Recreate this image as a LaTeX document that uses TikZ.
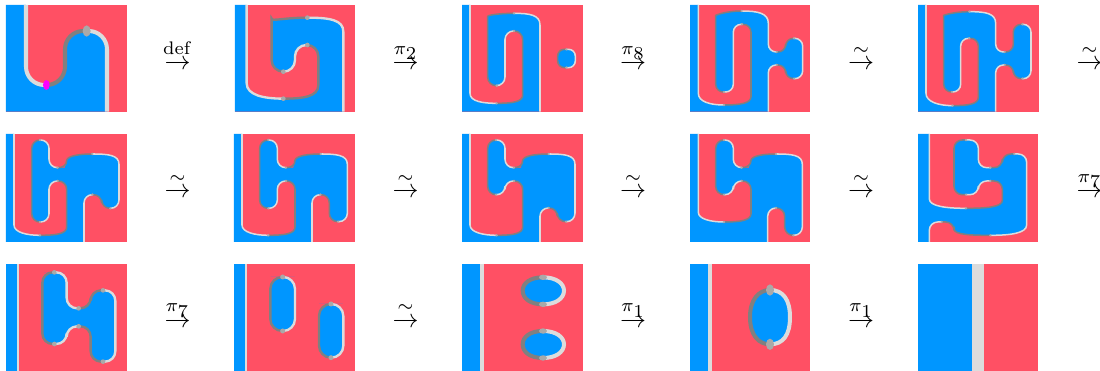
\documentclass[tikz,border=0pt]{standalone}
\definecolor{sideblue}{RGB}{0,150,255}
\definecolor{sidered}{RGB}{255,80,100}
\definecolor{edgelight}{RGB}{220,220,220}
\definecolor{edgedark}{RGB}{128,128,128}
\definecolor{dotgray}{RGB}{169,169,169}
\definecolor{pinch}{RGB}{255,0,255}
\tikzset{
  tile/.style={shift={(#1)},scale=1/3},
  rc/.style={rounded corners=3.2pt},
  light/.style={draw=edgelight},
  dark/.style={draw=edgedark},
  stepglyph/.style={inner sep=0pt},
  steplabel/.style={inner sep=0pt,anchor=base},
}
\newcommand{\tileback}[4]{\fill[sidered] (#1,#2) rectangle (#3,#4);}
\newcommand{\tiledots}[2]{\foreach \p in {#2} \fill[dotgray] \p circle [radius=#1];}
\begin{document}
\begin{tikzpicture}[x=0.3846pt,y=-0.3846pt]
\useasboundingbox (0,0) rectangle (1100,371);
% first row
\begin{scope}[tile={0,0},line width=1.54pt,rc/.style={rounded corners=7pt}]
  \tileback{18}{15}{381}{335}
  \fill[sideblue] (18,15) -- (78,15) -- (78,150) [rc] -- (78,255) -- (195,255) -- (195,93) -- (321,93) -- (321,200) [sharp corners] -- (321,335) -- (18,335) -- cycle;
  \draw[light,rc] (78,15) -- (78,255) -- (139,255);
  \draw[dark,rc] (139,255) -- (195,255) -- (195,93) -- (260,93);
  \draw[light,rc] (260,93) -- (321,93) -- (321,335);
  \fill[pinch] (139,255) ellipse [x radius=10,y radius=15];
  \fill[dotgray] (260,93) ellipse [x radius=12,y radius=17];
\end{scope}
\begin{scope}[tile={0,0},line width=0.9pt,rc/.style={rounded corners=4.4pt}]
  \tileback{705}{15}{1065}{335}
  \fill[sideblue] (705,15) -- (740,15) -- (740,250) .. controls (740,285) and (790,296) .. (850,296) .. controls (910,296) and (955,290) .. (955,255) -- (955,200) [rc] -- (955,135) -- (885,135) -- (885,215) -- (815,215) -- (815,90) [sharp corners] .. controls (815,65) and (850,53) .. (922,53) .. controls (990,53) and (1030,60) .. (1030,95) -- (1030,335) -- (705,335) -- cycle;
  \draw[light] (740,15) -- (740,250) .. controls (740,285) and (790,296) .. (850,296);
  \draw[dark] (850,296) .. controls (910,296) and (955,290) .. (955,255) -- (955,200) [rc] -- (955,135) -- (922,135);
  \draw[light,rc] (922,135) -- (885,135) -- (885,215) -- (850,215);
  \draw[dark,rc] (850,215) -- (815,215) -- (815,90) [sharp corners] .. controls (815,65) and (850,53) .. (922,53);
  \draw[light] (922,53) .. controls (990,53) and (1030,60) .. (1030,95) -- (1030,335);
  \tiledots{7}{(850,296),(922,135),(850,215),(922,53)}
\end{scope}
\begin{scope}[tile={450,0},line width=0.58pt,rc/.style={rounded corners=3.3pt}]
  \tileback{36}{15}{399}{335}
  \fill[sideblue] (36,15) -- (60,15) -- (60,280) .. controls (60,305) and (100,310) .. (140,310) .. controls (190,310) and (218,305) .. (218,285) -- (218,200) [rc] -- (218,93) -- (165,93) -- (165,257) -- (113,257) -- (113,75) [sharp corners] .. controls (113,45) and (150,40) .. (192,40) .. controls (240,40) and (270,45) .. (270,75) -- (270,335) -- (36,335) -- cycle;
  \draw[light] (60,15) -- (60,280) .. controls (60,305) and (100,310) .. (140,310);
  \draw[dark] (140,310) .. controls (190,310) and (218,305) .. (218,285) -- (218,200) [rc] -- (218,93) -- (192,93);
  \draw[light,rc] (192,93) -- (165,93) -- (165,257) -- (140,257);
  \draw[dark,rc] (140,257) -- (113,257) -- (113,75) [sharp corners] .. controls (113,45) and (150,40) .. (192,40);
  \draw[light] (192,40) .. controls (240,40) and (270,45) .. (270,75) -- (270,335);
  \fill[sideblue,rounded corners=2.6pt] (349,148) -- (376,148) -- (376,203) -- (323,203) -- (323,148) -- cycle;
  \draw[light,rounded corners=2.6pt] (349,148) -- (376,148) -- (376,203) -- (349,203);
  \draw[dark,rounded corners=2.6pt] (349,203) -- (323,203) -- (323,148) -- (349,148);
  \tiledots{4}{(140,310),(192,93),(140,257),(192,40),(349,148),(349,203)}
\end{scope}
\begin{scope}[tile={450,0},line width=0.58pt,rc/.style={rounded corners=3pt}]
  \tileback{720}{15}{1080}{335}
  \fill[sideblue] (720,15) -- (745,15) -- (745,280) .. controls (745,305) and (780,315) .. (822,315) .. controls (870,315) and (903,310) .. (903,290) -- (903,200) [rc] -- (903,73) -- (850,73) -- (850,276) -- (797,276) -- (797,70) [sharp corners] .. controls (797,45) and (830,33) .. (875,33) .. controls (925,33) and (955,40) .. (955,70) -- (955,110) [rc] -- (955,156) -- (1007,156) -- (1007,115) -- (1058,115) -- (1058,236) -- (1007,236) -- (1007,195) -- (955,195) -- (955,280) [sharp corners] -- (955,335) -- (720,335) -- cycle;
  \draw[light] (745,15) -- (745,280) .. controls (745,305) and (780,315) .. (822,315);
  \draw[dark] (822,315) .. controls (870,315) and (903,310) .. (903,290) -- (903,200) [rc] -- (903,73) -- (876,73);
  \draw[light,rc] (876,73) -- (850,73) -- (850,276) -- (822,276);
  \draw[dark,rc] (822,276) -- (797,276) -- (797,70) [sharp corners] .. controls (797,45) and (830,33) .. (875,33);
  \draw[light] (875,33) .. controls (925,33) and (955,40) .. (955,70) -- (955,110) [rc] -- (955,156) -- (980,156);
  \draw[dark,rc] (980,156) -- (1007,156) -- (1007,115) -- (1032,115);
  \draw[light,rc] (1032,115) -- (1058,115) -- (1058,236) -- (1032,236);
  \draw[dark,rc] (1032,236) -- (1007,236) -- (1007,195) -- (980,195);
  \draw[light,rc] (980,195) -- (955,195) -- (955,335);
  \tiledots{4}{(822,315),(876,73),(822,276),(875,33),(980,156),(1032,115),(1032,236),(980,195)}
\end{scope}
\begin{scope}[tile={840,0},line width=0.58pt,rc/.style={rounded corners=3pt}]
  \tileback{234}{15}{597}{335}
  \fill[sideblue] (234,15) -- (258,15) -- (258,280) .. controls (258,305) and (295,317) .. (338,317) .. controls (385,317) and (415,312) .. (415,292) -- (415,200) [rc] -- (415,115) -- (362,115) -- (362,276) -- (311,276) -- (311,70) [sharp corners] .. controls (311,45) and (345,35) .. (388,35) .. controls (437,35) and (467,40) .. (467,70) -- (467,110) [rc] -- (467,156) -- (520,156) -- (520,73) -- (573,73) -- (573,236) -- (520,236) -- (520,195) -- (467,195) -- (467,280) [sharp corners] -- (467,335) -- (234,335) -- cycle;
  \draw[light] (258,15) -- (258,280) .. controls (258,305) and (295,317) .. (338,317);
  \draw[dark] (338,317) .. controls (385,317) and (415,312) .. (415,292) -- (415,200) [rc] -- (415,115) -- (388,115);
  \draw[light,rc] (388,115) -- (362,115) -- (362,276) -- (336,276);
  \draw[dark,rc] (336,276) -- (311,276) -- (311,70) [sharp corners] .. controls (311,45) and (345,35) .. (388,35);
  \draw[light] (388,35) .. controls (437,35) and (467,40) .. (467,70) -- (467,110) [rc] -- (467,156) -- (494,156);
  \draw[dark,rc] (494,156) -- (520,156) -- (520,73) -- (547,73);
  \draw[light,rc] (547,73) -- (573,73) -- (573,236) -- (547,236);
  \draw[dark,rc] (547,236) -- (520,236) -- (520,195) -- (494,195);
  \draw[light,rc] (494,195) -- (467,195) -- (467,335);
  \tiledots{4}{(338,317),(388,115),(336,276),(388,35),(494,156),(547,73),(547,236),(494,195)}
\end{scope}
% second row
\begin{scope}[tile={0,125},line width=0.58pt]
  \tileback{18}{27}{381}{351}
  \fill[sideblue] (18,27) -- (42,27) -- (42,300) .. controls (42,322) and (80,331) .. (120,331) .. controls (170,331) and (200,326) .. (200,306) -- (200,240) [rc] -- (200,168) -- (147,168) -- (147,291) -- (95,291) -- (95,45) -- (147,45) -- (147,128) -- (173,128) [sharp corners] .. controls (190,128) and (200,120) .. (200,106) .. controls (203,92) and (240,87) .. (277,87) .. controls (325,87) and (357,90) .. (357,118) -- (357,180) [rc] -- (357,250) -- (305,250) -- (305,209) -- (252,209) -- (252,280) [sharp corners] -- (252,351) -- (18,351) -- cycle;
  \draw[light] (42,27) -- (42,300) .. controls (42,322) and (80,331) .. (120,331);
  \draw[dark] (120,331) .. controls (170,331) and (200,326) .. (200,306) -- (200,240) [rc] -- (200,168) -- (173,168);
  \draw[light,rc] (173,168) -- (147,168) -- (147,291) -- (120,291);
  \draw[dark,rc] (120,291) -- (95,291) -- (95,45) -- (120,45);
  \draw[light,rc] (120,45) -- (147,45) -- (147,128) -- (173,128);
  \draw[dark] (173,128) .. controls (190,128) and (200,120) .. (200,106) .. controls (203,92) and (240,87) .. (277,87);
  \draw[light] (277,87) .. controls (325,87) and (357,90) .. (357,118) -- (357,180) [rc] -- (357,250) -- (331,250);
  \draw[dark,rc] (331,250) -- (305,250) -- (305,209) -- (277,209);
  \draw[light,rc] (277,209) -- (252,209) -- (252,351);
  \tiledots{4}{(120,331),(173,168),(120,291),(120,45),(173,128),(277,87),(331,250),(277,209)}
\end{scope}
\begin{scope}[tile={0,125},line width=0.58pt]
  \tileback{702}{27}{1065}{351}
  \fill[sideblue] (702,27) -- (726,27) -- (726,300) .. controls (726,322) and (765,331) .. (805,331) .. controls (855,331) and (885,326) .. (885,306) -- (885,240) [rc] -- (885,168) -- (832,168) -- (832,250) -- (779,250) -- (779,45) -- (832,45) -- (832,128) -- (858,128) [sharp corners] .. controls (875,128) and (885,120) .. (885,106) .. controls (888,92) and (925,87) .. (962,87) .. controls (1010,87) and (1042,90) .. (1042,118) -- (1042,200) [rc] -- (1042,290) -- (988,290) -- (988,209) -- (936,209) -- (936,280) [sharp corners] -- (936,351) -- (702,351) -- cycle;
  \draw[light] (726,27) -- (726,300) .. controls (726,322) and (765,331) .. (805,331);
  \draw[dark] (805,331) .. controls (855,331) and (885,326) .. (885,306) -- (885,240) [rc] -- (885,168) -- (858,168);
  \draw[light,rc] (858,168) -- (832,168) -- (832,250) -- (805,250);
  \draw[dark,rc] (805,250) -- (779,250) -- (779,45) -- (805,45);
  \draw[light,rc] (805,45) -- (832,45) -- (832,128) -- (858,128);
  \draw[dark] (858,128) .. controls (875,128) and (885,120) .. (885,106) .. controls (888,92) and (925,87) .. (962,87);
  \draw[light] (962,87) .. controls (1010,87) and (1042,90) .. (1042,118) -- (1042,200) [rc] -- (1042,290) -- (1014,290);
  \draw[dark,rc] (1014,290) -- (988,290) -- (988,209) -- (961,209);
  \draw[light,rc] (961,209) -- (936,209) -- (936,351);
  \tiledots{4}{(805,331),(858,168),(805,250),(805,45),(858,128),(962,87),(1014,290),(961,209)}
\end{scope}
\begin{scope}[tile={450,125},line width=0.58pt]
  \tileback{36}{27}{399}{351}
  \fill[sideblue] (36,27) -- (60,27) -- (60,300) .. controls (60,322) and (100,331) .. (140,331) .. controls (190,331) and (218,326) .. (218,306) -- (218,240) [rc] -- (218,168) -- (165,168) -- (165,209) -- (113,209) -- (113,45) -- (165,45) -- (165,128) -- (192,128) [sharp corners] .. controls (208,128) and (218,120) .. (218,106) .. controls (221,92) and (258,87) .. (296,87) .. controls (344,87) and (375,90) .. (375,118) -- (375,200) [rc] -- (375,290) -- (322,290) -- (322,249) -- (270,249) -- (270,300) [sharp corners] -- (270,351) -- (36,351) -- cycle;
  \draw[light] (60,27) -- (60,300) .. controls (60,322) and (100,331) .. (140,331);
  \draw[dark] (140,331) .. controls (190,331) and (218,326) .. (218,306) -- (218,240) [rc] -- (218,168) -- (192,168);
  \draw[light,rc] (192,168) -- (165,168) -- (165,209) -- (138,209);
  \draw[dark,rc] (138,209) -- (113,209) -- (113,45) -- (138,45);
  \draw[light,rc] (138,45) -- (165,45) -- (165,128) -- (192,128);
  \draw[dark] (192,128) .. controls (208,128) and (218,120) .. (218,106) .. controls (221,92) and (258,87) .. (296,87);
  \draw[light] (296,87) .. controls (344,87) and (375,90) .. (375,118) -- (375,200) [rc] -- (375,290) -- (348,290);
  \draw[dark,rc] (348,290) -- (322,290) -- (322,249) -- (296,249);
  \draw[light,rc] (296,249) -- (270,249) -- (270,351);
  \tiledots{4}{(140,331),(192,168),(138,209),(138,45),(192,128),(296,87),(348,290),(296,249)}
\end{scope}
\begin{scope}[tile={450,125},line width=0.58pt]
  \tileback{720}{27}{1080}{351}
  \fill[sideblue] (720,27) -- (745,27) -- (745,262) .. controls (745,282) and (782,291) .. (822,291) .. controls (872,291) and (903,286) .. (903,266) -- (903,230) [rc] -- (903,168) -- (850,168) -- (850,209) -- (797,209) -- (797,45) -- (850,45) -- (850,128) -- (875,128) [sharp corners] .. controls (892,128) and (903,120) .. (903,106) .. controls (906,92) and (942,87) .. (978,87) .. controls (1026,87) and (1057,90) .. (1057,118) -- (1057,200) [rc] -- (1057,331) -- (1004,331) -- (1004,249) -- (953,249) -- (953,300) [sharp corners] -- (953,351) -- (720,351) -- cycle;
  \draw[light] (745,27) -- (745,262) .. controls (745,282) and (782,291) .. (822,291);
  \draw[dark] (822,291) .. controls (872,291) and (903,286) .. (903,266) -- (903,230) [rc] -- (903,168) -- (875,168);
  \draw[light,rc] (875,168) -- (850,168) -- (850,209) -- (822,209);
  \draw[dark,rc] (822,209) -- (797,209) -- (797,45) -- (822,45);
  \draw[light,rc] (822,45) -- (850,45) -- (850,128) -- (875,128);
  \draw[dark] (875,128) .. controls (892,128) and (903,120) .. (903,106) .. controls (906,92) and (942,87) .. (978,87);
  \draw[light] (978,87) .. controls (1026,87) and (1057,90) .. (1057,118) -- (1057,200) [rc] -- (1057,331) -- (1030,331);
  \draw[dark,rc] (1030,331) -- (1004,331) -- (1004,249) -- (978,249);
  \draw[light,rc] (978,249) -- (953,249) -- (953,351);
  \tiledots{4}{(822,291),(875,168),(822,209),(822,45),(875,128),(978,87),(1030,331),(978,249)}
\end{scope}
\begin{scope}[tile={840,125},line width=0.58pt]
  \tileback{234}{27}{594}{351}
  \fill[sideblue] (234,27) -- (268,27) -- (268,222) .. controls (268,244) and (320,250) .. (378,250) .. controls (440,250) and (487,246) .. (487,226) -- (487,200) [rc] -- (487,168) -- (415,168) -- (415,209) -- (342,209) -- (342,45) -- (415,45) -- (415,128) -- (487,128) -- (487,87) -- (560,87) -- (560,200) [sharp corners] -- (560,300) .. controls (560,325) and (510,331) .. (451,331) .. controls (400,331) and (342,330) .. (342,312) -- (342,305) [rc] -- (342,291) -- (268,291) -- (268,320) [sharp corners] -- (268,351) -- (234,351) -- cycle;
  \draw[light] (268,27) -- (268,222) .. controls (268,244) and (320,250) .. (378,250);
  \draw[dark] (378,250) .. controls (440,250) and (487,246) .. (487,226) -- (487,200) [rc] -- (487,168) -- (451,168);
  \draw[light,rc] (451,168) -- (415,168) -- (415,209) -- (378,209);
  \draw[dark,rc] (378,209) -- (342,209) -- (342,45) -- (378,45);
  \draw[light,rc] (378,45) -- (415,45) -- (415,128) -- (451,128);
  \draw[dark,rc] (451,128) -- (487,128) -- (487,87) -- (523,87);
  \draw[light,rc] (523,87) -- (560,87) -- (560,200) [sharp corners] -- (560,300) .. controls (560,325) and (510,331) .. (451,331);
  \draw[dark] (451,331) .. controls (400,331) and (342,330) .. (342,312) -- (342,305) [rc] -- (342,291) -- (305,291);
  \draw[light,rc] (305,291) -- (268,291) -- (268,351);
  \tiledots{4}{(378,250),(451,168),(378,209),(378,45),(451,128),(523,87),(451,331),(305,291)}
\end{scope}
% third row
\begin{scope}[tile={0,255},line width=0.9pt,rc/.style={rounded corners=4pt}]
  \tileback{18}{27}{381}{347}
  \fill[sideblue] (18,27) rectangle (55,347);
  \draw[light,line width=0.8pt] (55,27) -- (55,347);
  \fill[sideblue,rc] (163,52) -- (200,52) -- (200,160) -- (272,160) -- (272,106) -- (346,106) -- (346,320) -- (272,320) -- (272,214) -- (200,214) -- (200,267) -- (127,267) -- (127,52) -- cycle;
  \draw[light,rc] (163,52) -- (200,52) -- (200,160) -- (236,160);
  \draw[dark,rc] (236,160) -- (272,160) -- (272,106) -- (309,106);
  \draw[light,rc] (309,106) -- (346,106) -- (346,320) -- (309,320);
  \draw[dark,rc] (309,320) -- (272,320) -- (272,214) -- (236,214);
  \draw[light,rc] (236,214) -- (200,214) -- (200,267) -- (163,267);
  \draw[dark,rc] (163,267) -- (127,267) -- (127,52) -- (163,52);
  \tiledots{7}{(163,52),(236,160),(309,106),(309,320),(236,214),(163,267)}
\end{scope}
\begin{scope}[tile={0,255},line width=0.9pt,rc/.style={rounded corners=4.6pt}]
  \tileback{702}{27}{1065}{347}
  \fill[sideblue] (702,27) rectangle (739,347);
  \draw[light,line width=0.8pt] (739,27) -- (739,347);
  \fill[sideblue,rc] (848,66) -- (885,66) -- (885,228) -- (811,228) -- (811,66) -- cycle;
  \draw[light,rc] (848,66) -- (885,66) -- (885,228) -- (848,228);
  \draw[dark,rc] (848,228) -- (811,228) -- (811,66) -- (848,66);
  \fill[sideblue,rc] (993,147) -- (1030,147) -- (1030,308) -- (957,308) -- (957,147) -- cycle;
  \draw[light,rc] (993,147) -- (1030,147) -- (1030,308) -- (993,308);
  \draw[dark,rc] (993,308) -- (957,308) -- (957,147) -- (993,147);
  \tiledots{7.5}{(848,66),(848,228),(993,147),(993,308)}
\end{scope}
\begin{scope}[tile={450,255},line width=1.54pt]
  \tileback{36}{27}{399}{347}
  \fill[sideblue] (36,27) rectangle (96,347);
  \draw[light] (96,27) -- (96,347);
  \fill[sideblue] (279,67) .. controls (318,67) and (342,85) .. (342,107) .. controls (342,130) and (318,148) .. (279,148) .. controls (240,148) and (218,130) .. (218,107) .. controls (218,85) and (240,67) .. (279,67) -- cycle;
  \draw[light] (279,67) .. controls (318,67) and (342,85) .. (342,107) .. controls (342,130) and (318,148) .. (279,148);
  \draw[dark] (279,148) .. controls (240,148) and (218,130) .. (218,107) .. controls (218,85) and (240,67) .. (279,67);
  \fill[sideblue] (279,228) .. controls (318,228) and (342,246) .. (342,268) .. controls (342,291) and (318,309) .. (279,309) .. controls (240,309) and (218,291) .. (218,268) .. controls (218,246) and (240,228) .. (279,228) -- cycle;
  \draw[light] (279,228) .. controls (318,228) and (342,246) .. (342,268) .. controls (342,291) and (318,309) .. (279,309);
  \draw[dark] (279,309) .. controls (240,309) and (218,291) .. (218,268) .. controls (218,246) and (240,228) .. (279,228);
  \foreach \p in {(279,67),(279,148),(279,228),(279,309)}
    \fill[dotgray] \p ellipse [x radius=12,y radius=8];
\end{scope}
\begin{scope}[tile={450,255},line width=1.54pt]
  \tileback{720}{27}{1080}{347}
  \fill[sideblue] (720,27) rectangle (780,347);
  \draw[light] (780,27) -- (780,347);
  \fill[sideblue] (960,105) .. controls (1000,105) and (1020,135) .. (1020,186) .. controls (1020,240) and (1000,268) .. (960,268) .. controls (925,268) and (900,240) .. (900,186) .. controls (900,135) and (925,105) .. (960,105) -- cycle;
  \draw[light] (960,105) .. controls (1000,105) and (1020,135) .. (1020,186) .. controls (1020,240) and (1000,268) .. (960,268);
  \draw[dark] (960,268) .. controls (925,268) and (900,240) .. (900,186) .. controls (900,135) and (925,105) .. (960,105);
  \foreach \p in {(960,105),(960,268)}
    \fill[dotgray] \p ellipse [x radius=12,y radius=17];
\end{scope}
\begin{scope}[tile={840,255}]
  \tileback{234}{27}{594}{347}
  \fill[sideblue] (234,27) rectangle (396,347);
  \fill[edgelight] (396,27) rectangle (432,347);
\end{scope}
% steps between the tiles
\foreach \x/\y/\lab/\id in {177.5/65/\mathrm{def}/a,405.5/65/\pi_{\scriptstyle 2}/b,633/65/\pi_{\scriptstyle 8}/c,861/65/\sim/d,1089.5/65/\sim/e,
    177.5/193/\sim/f,405.5/193/\sim/g,633/193/\sim/h,861/193/\sim/i,1089.5/193/\pi_{\scriptstyle 7}/j,
    177.5/322.5/\pi_{\scriptstyle 7}/k,405.5/322.5/\sim/l,633/322.5/\pi_{\scriptstyle 1}/m,861/322.5/\pi_{\scriptstyle 1}/n}{
  \node[stepglyph] (arrow\id) at (\x,\y) {$\to$};
  \node[steplabel] (label\id) at (\x,\y-10.5) {$\scriptstyle\lab$};
}
\end{tikzpicture}
\end{document}
